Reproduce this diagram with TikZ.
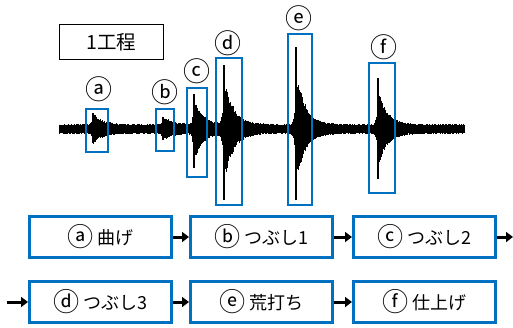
\documentclass[tikz,border=0pt]{standalone}
\usepackage{fontspec}
\setmainfont{Noto Sans CJK JP}
\usetikzlibrary{arrows.meta}
\definecolor{xblue}{HTML}{0070C0}
\pgfmathdeclarefunction{burst}{3}{%
  \begingroup
  \pgfmathparse{#3*exp(-min(abs(#1-#2)/((#1>=#2)?9:1.2),12))}%
  \pgfmathsmuggle\pgfmathresult\endgroup}
\newcommand\cl[1]{\raisebox{-0.12em}{\fontsize{1.45em}{1em}\selectfont #1}}
\tikzset{
  wbox/.style={draw=xblue, line width=2.4pt},
  stepbox/.style={draw=xblue, line width=3pt, minimum width=142pt, minimum height=41pt, inner sep=0pt, font=\fontsize{18}{20}\selectfont},
  lbl/.style={font=\fontsize{27}{27}\selectfont, inner sep=0pt},
  flow/.style={line width=3pt, -{Triangle[length=7pt,width=10pt]}},
}
\begin{document}
\begin{tikzpicture}[x=1pt,y=-1pt]
\useasboundingbox (0,0) rectangle (513,327);
% title
\node[draw, line width=1.4pt, minimum width=104pt, minimum height=35pt, inner sep=0pt, font=\fontsize{19.5}{22}\selectfont] (title) at (111.5,42) {1工程};
% waveform
\pgfmathsetseed{4242}
\foreach \x in {59,59.5,...,464}{
  \pgfmathsetmacro\r{0.8+0.3*rnd}
  \pgfmathsetmacro\u{3.4+1.6*rnd+\r*(burst(\x,93,11)+burst(\x,163,8)+burst(\x,194,23)+burst(\x,224,44)+burst(\x,296,50)+burst(\x,378,33))}
  \pgfmathsetmacro\d{3.4+1.6*rnd+\r*(burst(\x,93,10)+burst(\x,163,7)+burst(\x,194,25)+burst(\x,224,46)+burst(\x,296,46)+burst(\x,378,32))}
  \draw[line width=0.8pt] (\x,129-\u) -- (\x,129+\d);
}
\foreach \p/\t/\b in {93/113/143, 163/117/140, 194/94/168, 224/65/200, 296/47/200, 378/78/179}{
  \draw[line width=1.4pt] (\p,\t) -- (\p,\b);
}
% burst boxes
\node[wbox, minimum width=22pt, minimum height=43pt] (ba) at (97,130.5) {};
\node[wbox, minimum width=18pt, minimum height=42pt] (bb) at (165,130) {};
\node[wbox, minimum width=20pt, minimum height=89pt] (bc) at (197,132.5) {};
\node[wbox, minimum width=26pt, minimum height=147pt] (bd) at (229,131.5) {};
\node[wbox, minimum width=24pt, minimum height=171pt] (be) at (300,119.5) {};
\node[wbox, minimum width=26pt, minimum height=130pt] (bf) at (382,128) {};
% labels
\node[lbl] (la) at (99,89) {ⓐ};
\node[lbl] (lb) at (165,92) {ⓑ};
\node[lbl] (lc) at (197,71) {ⓒ};
\node[lbl] (ld) at (228,43) {ⓓ};
\node[lbl] (le) at (299,18) {ⓔ};
\node[lbl] (lf) at (384,47) {ⓕ};
% step boxes
\node[stepbox] (s1) at (100.5,237) {\cl{ⓐ} 曲げ};
\node[stepbox] (s2) at (261.5,237) {\cl{ⓑ} つぶし1};
\node[stepbox] (s3) at (424.5,237) {\cl{ⓒ} つぶし2};
\node[stepbox] (s4) at (100.5,302) {\cl{ⓓ} つぶし3};
\node[stepbox] (s5) at (261.5,302) {\cl{ⓔ} 荒打ち};
\node[stepbox] (s6) at (424.5,302) {\cl{ⓕ} 仕上げ};
\coordinate (out) at (513,237);
\coordinate (in) at (7,302);
\draw[flow] (s1) -- (s2);
\draw[flow] (s2) -- (s3);
\draw[flow] (s3) -- (out);
\draw[flow] (in) -- (s4);
\draw[flow] (s4) -- (s5);
\draw[flow] (s5) -- (s6);
\end{tikzpicture}
\end{document}
